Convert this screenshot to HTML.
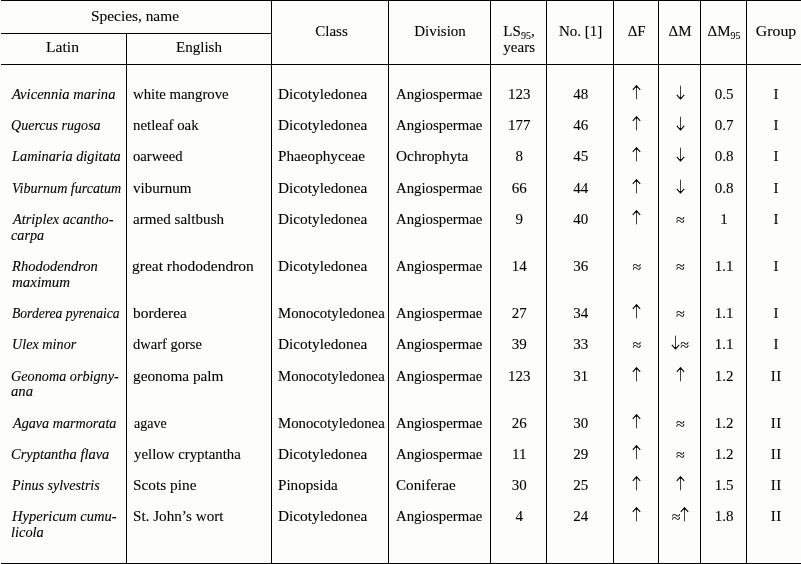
<!DOCTYPE html>
<html><head><meta charset="utf-8"><style>
html,body{margin:0;padding:0;}
body{width:801px;height:564px;background:#fdfdfb;position:relative;overflow:hidden;font-family:"Liberation Serif",serif;font-size:15px;color:#000;-webkit-text-stroke:0.1px #000;}
.w{position:absolute;left:0;top:0;width:801px;height:564px;will-change:transform;}
.h,.v{position:absolute;background:#000;}
.h{height:1px;}
.v{width:1px;}
.t,.c,.ap{position:absolute;line-height:16px;white-space:nowrap;}
.t{transform-origin:0 0;}
.c{text-align:center;}
.it{font-style:italic;}
.a{position:absolute;width:9px;height:15px;}
.a svg{display:block;}
.ap{width:40px;text-align:center;font-size:16px;}
sub{font-size:10px;vertical-align:baseline;position:relative;top:2.7px;line-height:0;}
</style></head><body><div class="w">
<div class="h" style="left:1px;top:0;width:800px"></div>
<div class="h" style="left:1px;top:33px;width:270px"></div>
<div class="h" style="left:1px;top:64px;width:800px"></div>
<div class="h" style="left:1px;top:563px;width:800px"></div>
<div class="v" style="left:126px;top:33px;height:531px"></div>
<div class="v" style="left:271px;top:0px;height:564px"></div>
<div class="v" style="left:388px;top:0px;height:564px"></div>
<div class="v" style="left:490px;top:0px;height:564px"></div>
<div class="v" style="left:546px;top:0px;height:564px"></div>
<div class="v" style="left:613px;top:0px;height:564px"></div>
<div class="v" style="left:658px;top:0px;height:564px"></div>
<div class="v" style="left:700px;top:0px;height:564px"></div>
<div class="v" style="left:746px;top:0px;height:564px"></div>
<div id="i1" class="c" style="left:0.00px;width:270px;top:8.00px;transform:scaleX(1.0250);">Species, name</div>
<div id="i2" class="c" style="left:0.00px;width:125px;top:39.00px;transform:scaleX(1.0400);">Latin</div>
<div id="i3" class="c" style="left:127.00px;width:144px;top:39.00px;">English</div>
<div id="i4" class="c" style="left:273.50px;width:116px;top:23.00px;">Class</div>
<div id="i5" class="c" style="left:389.50px;width:101px;top:23.00px;">Division</div>
<div id="i6" class="c" style="left:491.50px;width:55px;top:23.00px;">LS<sub>95</sub>,</div>
<div id="i7" class="c" style="left:491.70px;width:55px;top:39.00px;">years</div>
<div id="i8" class="c" style="left:547.60px;width:66px;top:23.00px;">No. [1]</div>
<div id="i9" class="c" style="left:614.70px;width:44px;top:23.00px;">ΔF</div>
<div id="i10" class="c" style="left:659.50px;width:41px;top:23.00px;">ΔM</div>
<div id="i11" class="c" style="left:701.60px;width:45px;top:23.00px;">ΔM<sub>95</sub></div>
<div id="i12" class="c" style="left:748.80px;width:54px;top:23.00px;transform:scaleX(1.0550);">Group</div>
<div id="i13" class="t it" style="left:11.99px;top:86.00px;transform:scaleX(0.9738);">Avicennia marina</div>
<div id="i14" class="t" style="left:133.33px;top:86.00px;transform:scaleX(0.9857);">white mangrove</div>
<div id="i15" class="t" style="left:277.88px;top:86.00px;transform:scaleX(1.0201);">Dicotyledonea</div>
<div id="i16" class="t" style="left:395.59px;top:86.00px;transform:scaleX(0.9873);">Angiospermae</div>
<div id="i17" class="c" style="left:491.70px;width:55.00000000000006px;top:86.00px;">123</div>
<div id="i18" class="c" style="left:547.70px;width:66.0px;top:86.00px;">48</div>
<div class="a" style="left:632.10px;top:84.50px"><svg width="9" height="15" viewBox="0 0 9 15"><path d="M4.5 1.5V14.3" stroke="#000" stroke-width="0.75" fill="none"/><path d="M0.8 4.9L4.5 0.7L8.2 4.9" stroke="#000" stroke-width="1.1" fill="none"/><path d="M4.5 0.4L3.1 2.8L5.9 2.8Z" fill="#000"/></svg></div>
<div class="a" style="left:675.60px;top:84.50px"><svg width="9" height="15" viewBox="0 0 9 15"><path d="M4.5 0.7V13.5" stroke="#000" stroke-width="0.75" fill="none"/><path d="M0.8 9.8L4.5 14.0L8.2 9.8" stroke="#000" stroke-width="1.1" fill="none"/><path d="M4.5 14.3L3.1 11.9L5.9 11.9Z" fill="#000"/></svg></div>
<div id="i19" class="c" style="left:701.50px;width:45.0px;top:86.00px;">0.5</div>
<div id="i20" class="c" style="left:749.00px;width:54.0px;top:86.00px;">I</div>
<div id="i21" class="t it" style="left:10.86px;top:117.00px;transform:scaleX(0.9368);">Quercus rugosa</div>
<div id="i22" class="t" style="left:133.28px;top:117.00px;transform:scaleX(0.9911);">netleaf oak</div>
<div id="i23" class="t" style="left:277.88px;top:117.00px;transform:scaleX(1.0201);">Dicotyledonea</div>
<div id="i24" class="t" style="left:395.59px;top:117.00px;transform:scaleX(0.9873);">Angiospermae</div>
<div id="i25" class="c" style="left:491.70px;width:55.00000000000006px;top:117.00px;">177</div>
<div id="i26" class="c" style="left:547.70px;width:66.0px;top:117.00px;">46</div>
<div class="a" style="left:632.10px;top:115.50px"><svg width="9" height="15" viewBox="0 0 9 15"><path d="M4.5 1.5V14.3" stroke="#000" stroke-width="0.75" fill="none"/><path d="M0.8 4.9L4.5 0.7L8.2 4.9" stroke="#000" stroke-width="1.1" fill="none"/><path d="M4.5 0.4L3.1 2.8L5.9 2.8Z" fill="#000"/></svg></div>
<div class="a" style="left:675.60px;top:115.50px"><svg width="9" height="15" viewBox="0 0 9 15"><path d="M4.5 0.7V13.5" stroke="#000" stroke-width="0.75" fill="none"/><path d="M0.8 9.8L4.5 14.0L8.2 9.8" stroke="#000" stroke-width="1.1" fill="none"/><path d="M4.5 14.3L3.1 11.9L5.9 11.9Z" fill="#000"/></svg></div>
<div id="i27" class="c" style="left:701.50px;width:45.0px;top:117.00px;">0.7</div>
<div id="i28" class="c" style="left:749.00px;width:54.0px;top:117.00px;">I</div>
<div id="i29" class="t it" style="left:12.26px;top:148.00px;transform:scaleX(0.9563);">Laminaria digitata</div>
<div id="i30" class="t" style="left:133.29px;top:148.00px;transform:scaleX(0.9771);">oarweed</div>
<div id="i31" class="t" style="left:278.02px;top:148.00px;transform:scaleX(1.0132);">Phaeophyceae</div>
<div id="i32" class="t" style="left:395.69px;top:148.00px;transform:scaleX(1.0227);">Ochrophyta</div>
<div id="i33" class="c" style="left:491.70px;width:55.00000000000006px;top:148.00px;">8</div>
<div id="i34" class="c" style="left:547.70px;width:66.0px;top:148.00px;">45</div>
<div class="a" style="left:632.10px;top:146.50px"><svg width="9" height="15" viewBox="0 0 9 15"><path d="M4.5 1.5V14.3" stroke="#000" stroke-width="0.75" fill="none"/><path d="M0.8 4.9L4.5 0.7L8.2 4.9" stroke="#000" stroke-width="1.1" fill="none"/><path d="M4.5 0.4L3.1 2.8L5.9 2.8Z" fill="#000"/></svg></div>
<div class="a" style="left:675.60px;top:146.50px"><svg width="9" height="15" viewBox="0 0 9 15"><path d="M4.5 0.7V13.5" stroke="#000" stroke-width="0.75" fill="none"/><path d="M0.8 9.8L4.5 14.0L8.2 9.8" stroke="#000" stroke-width="1.1" fill="none"/><path d="M4.5 14.3L3.1 11.9L5.9 11.9Z" fill="#000"/></svg></div>
<div id="i35" class="c" style="left:701.50px;width:45.0px;top:148.00px;">0.8</div>
<div id="i36" class="c" style="left:749.00px;width:54.0px;top:148.00px;">I</div>
<div id="i37" class="t it" style="left:11.83px;top:180.00px;transform:scaleX(0.9395);">Viburnum furcatum</div>
<div id="i38" class="t" style="left:133.35px;top:180.00px;transform:scaleX(1.0003);">viburnum</div>
<div id="i39" class="t" style="left:277.88px;top:180.00px;transform:scaleX(1.0201);">Dicotyledonea</div>
<div id="i40" class="t" style="left:395.59px;top:180.00px;transform:scaleX(0.9873);">Angiospermae</div>
<div id="i41" class="c" style="left:491.70px;width:55.00000000000006px;top:180.00px;">66</div>
<div id="i42" class="c" style="left:547.70px;width:66.0px;top:180.00px;">44</div>
<div class="a" style="left:632.10px;top:178.50px"><svg width="9" height="15" viewBox="0 0 9 15"><path d="M4.5 1.5V14.3" stroke="#000" stroke-width="0.75" fill="none"/><path d="M0.8 4.9L4.5 0.7L8.2 4.9" stroke="#000" stroke-width="1.1" fill="none"/><path d="M4.5 0.4L3.1 2.8L5.9 2.8Z" fill="#000"/></svg></div>
<div class="a" style="left:675.60px;top:178.50px"><svg width="9" height="15" viewBox="0 0 9 15"><path d="M4.5 0.7V13.5" stroke="#000" stroke-width="0.75" fill="none"/><path d="M0.8 9.8L4.5 14.0L8.2 9.8" stroke="#000" stroke-width="1.1" fill="none"/><path d="M4.5 14.3L3.1 11.9L5.9 11.9Z" fill="#000"/></svg></div>
<div id="i43" class="c" style="left:701.50px;width:45.0px;top:180.00px;">0.8</div>
<div id="i44" class="c" style="left:749.00px;width:54.0px;top:180.00px;">I</div>
<div id="i45" class="t it" style="left:12.73px;top:211.00px;transform:scaleX(0.9536);">Atriplex acantho-</div>
<div id="i46" class="t it" style="left:11.35px;top:227.00px;transform:scaleX(0.9450);">carpa</div>
<div id="i47" class="t" style="left:133.11px;top:211.00px;transform:scaleX(1.0074);">armed saltbush</div>
<div id="i48" class="t" style="left:277.88px;top:211.00px;transform:scaleX(1.0201);">Dicotyledonea</div>
<div id="i49" class="t" style="left:395.59px;top:211.00px;transform:scaleX(0.9873);">Angiospermae</div>
<div id="i50" class="c" style="left:491.70px;width:55.00000000000006px;top:211.00px;">9</div>
<div id="i51" class="c" style="left:547.70px;width:66.0px;top:211.00px;">40</div>
<div class="a" style="left:632.10px;top:209.50px"><svg width="9" height="15" viewBox="0 0 9 15"><path d="M4.5 1.5V14.3" stroke="#000" stroke-width="0.75" fill="none"/><path d="M0.8 4.9L4.5 0.7L8.2 4.9" stroke="#000" stroke-width="1.1" fill="none"/><path d="M4.5 0.4L3.1 2.8L5.9 2.8Z" fill="#000"/></svg></div>
<div class="ap" style="left:660.40px;top:212.00px">≈</div>
<div id="i52" class="c" style="left:701.50px;width:45.0px;top:211.00px;">1</div>
<div id="i53" class="c" style="left:749.00px;width:54.0px;top:211.00px;">I</div>
<div id="i54" class="t it" style="left:11.72px;top:258.00px;transform:scaleX(0.9690);">Rhododendron</div>
<div id="i55" class="t it" style="left:11.67px;top:274.00px;transform:scaleX(0.9960);">maximum</div>
<div id="i56" class="t" style="left:132.36px;top:258.00px;transform:scaleX(1.0334);">great rhododendron</div>
<div id="i57" class="t" style="left:277.88px;top:258.00px;transform:scaleX(1.0201);">Dicotyledonea</div>
<div id="i58" class="t" style="left:395.59px;top:258.00px;transform:scaleX(0.9873);">Angiospermae</div>
<div id="i59" class="c" style="left:491.70px;width:55.00000000000006px;top:258.00px;">14</div>
<div id="i60" class="c" style="left:547.70px;width:66.0px;top:258.00px;">36</div>
<div class="ap" style="left:616.90px;top:259.00px">≈</div>
<div class="ap" style="left:660.40px;top:259.00px">≈</div>
<div id="i61" class="c" style="left:701.50px;width:45.0px;top:258.00px;">1.1</div>
<div id="i62" class="c" style="left:749.00px;width:54.0px;top:258.00px;">I</div>
<div id="i63" class="t it" style="left:12.48px;top:305.00px;transform:scaleX(0.9070);">Borderea pyrenaica</div>
<div id="i64" class="t" style="left:132.58px;top:305.00px;transform:scaleX(1.0264);">borderea</div>
<div id="i65" class="t" style="left:278.29px;top:305.00px;transform:scaleX(0.9851);">Monocotyledonea</div>
<div id="i66" class="t" style="left:395.59px;top:305.00px;transform:scaleX(0.9873);">Angiospermae</div>
<div id="i67" class="c" style="left:491.70px;width:55.00000000000006px;top:305.00px;">27</div>
<div id="i68" class="c" style="left:547.70px;width:66.0px;top:305.00px;">34</div>
<div class="a" style="left:632.10px;top:303.50px"><svg width="9" height="15" viewBox="0 0 9 15"><path d="M4.5 1.5V14.3" stroke="#000" stroke-width="0.75" fill="none"/><path d="M0.8 4.9L4.5 0.7L8.2 4.9" stroke="#000" stroke-width="1.1" fill="none"/><path d="M4.5 0.4L3.1 2.8L5.9 2.8Z" fill="#000"/></svg></div>
<div class="ap" style="left:660.40px;top:306.00px">≈</div>
<div id="i69" class="c" style="left:701.50px;width:45.0px;top:305.00px;">1.1</div>
<div id="i70" class="c" style="left:749.00px;width:54.0px;top:305.00px;">I</div>
<div id="i71" class="t it" style="left:11.53px;top:336.00px;transform:scaleX(0.9463);">Ulex minor</div>
<div id="i72" class="t" style="left:133.38px;top:336.00px;transform:scaleX(0.9666);">dwarf gorse</div>
<div id="i73" class="t" style="left:277.88px;top:336.00px;transform:scaleX(1.0201);">Dicotyledonea</div>
<div id="i74" class="t" style="left:395.59px;top:336.00px;transform:scaleX(0.9873);">Angiospermae</div>
<div id="i75" class="c" style="left:491.70px;width:55.00000000000006px;top:336.00px;">39</div>
<div id="i76" class="c" style="left:547.70px;width:66.0px;top:336.00px;">33</div>
<div class="ap" style="left:616.90px;top:337.00px">≈</div>
<div class="a" style="left:671.30px;top:334.50px"><svg width="9" height="15" viewBox="0 0 9 15"><path d="M4.5 0.7V13.5" stroke="#000" stroke-width="0.75" fill="none"/><path d="M0.8 9.8L4.5 14.0L8.2 9.8" stroke="#000" stroke-width="1.1" fill="none"/><path d="M4.5 14.3L3.1 11.9L5.9 11.9Z" fill="#000"/></svg></div>
<div class="ap" style="left:664.70px;top:337.00px">≈</div>
<div id="i77" class="c" style="left:701.50px;width:45.0px;top:336.00px;">1.1</div>
<div id="i78" class="c" style="left:749.00px;width:54.0px;top:336.00px;">I</div>
<div id="i79" class="t it" style="left:11.22px;top:368.00px;transform:scaleX(0.9473);">Geonoma orbigny-</div>
<div id="i80" class="t it" style="left:11.45px;top:383.00px;transform:scaleX(0.9826);">ana</div>
<div id="i81" class="t" style="left:132.75px;top:368.00px;transform:scaleX(1.0196);">geonoma palm</div>
<div id="i82" class="t" style="left:278.29px;top:368.00px;transform:scaleX(0.9851);">Monocotyledonea</div>
<div id="i83" class="t" style="left:395.59px;top:368.00px;transform:scaleX(0.9873);">Angiospermae</div>
<div id="i84" class="c" style="left:491.70px;width:55.00000000000006px;top:368.00px;">123</div>
<div id="i85" class="c" style="left:547.70px;width:66.0px;top:368.00px;">31</div>
<div class="a" style="left:632.10px;top:366.50px"><svg width="9" height="15" viewBox="0 0 9 15"><path d="M4.5 1.5V14.3" stroke="#000" stroke-width="0.75" fill="none"/><path d="M0.8 4.9L4.5 0.7L8.2 4.9" stroke="#000" stroke-width="1.1" fill="none"/><path d="M4.5 0.4L3.1 2.8L5.9 2.8Z" fill="#000"/></svg></div>
<div class="a" style="left:675.60px;top:366.50px"><svg width="9" height="15" viewBox="0 0 9 15"><path d="M4.5 1.5V14.3" stroke="#000" stroke-width="0.75" fill="none"/><path d="M0.8 4.9L4.5 0.7L8.2 4.9" stroke="#000" stroke-width="1.1" fill="none"/><path d="M4.5 0.4L3.1 2.8L5.9 2.8Z" fill="#000"/></svg></div>
<div id="i86" class="c" style="left:701.50px;width:45.0px;top:368.00px;">1.2</div>
<div id="i87" class="c" style="left:749.00px;width:54.0px;top:368.00px;"><span style="letter-spacing:0.7px;margin-right:-0.7px">II</span></div>
<div id="i88" class="t it" style="left:12.89px;top:415.00px;transform:scaleX(0.9435);">Agava marmorata</div>
<div id="i89" class="t" style="left:133.55px;top:415.00px;transform:scaleX(0.9325);">agave</div>
<div id="i90" class="t" style="left:278.29px;top:415.00px;transform:scaleX(0.9851);">Monocotyledonea</div>
<div id="i91" class="t" style="left:395.59px;top:415.00px;transform:scaleX(0.9873);">Angiospermae</div>
<div id="i92" class="c" style="left:491.70px;width:55.00000000000006px;top:415.00px;">26</div>
<div id="i93" class="c" style="left:547.70px;width:66.0px;top:415.00px;">30</div>
<div class="a" style="left:632.10px;top:413.50px"><svg width="9" height="15" viewBox="0 0 9 15"><path d="M4.5 1.5V14.3" stroke="#000" stroke-width="0.75" fill="none"/><path d="M0.8 4.9L4.5 0.7L8.2 4.9" stroke="#000" stroke-width="1.1" fill="none"/><path d="M4.5 0.4L3.1 2.8L5.9 2.8Z" fill="#000"/></svg></div>
<div class="ap" style="left:660.40px;top:416.00px">≈</div>
<div id="i94" class="c" style="left:701.50px;width:45.0px;top:415.00px;">1.2</div>
<div id="i95" class="c" style="left:749.00px;width:54.0px;top:415.00px;"><span style="letter-spacing:0.7px;margin-right:-0.7px">II</span></div>
<div id="i96" class="t it" style="left:11.08px;top:446.00px;transform:scaleX(0.9628);">Cryptantha flava</div>
<div id="i97" class="t" style="left:133.54px;top:446.00px;transform:scaleX(0.9901);">yellow cryptantha</div>
<div id="i98" class="t" style="left:277.88px;top:446.00px;transform:scaleX(1.0201);">Dicotyledonea</div>
<div id="i99" class="t" style="left:395.59px;top:446.00px;transform:scaleX(0.9873);">Angiospermae</div>
<div id="i100" class="c" style="left:491.70px;width:55.00000000000006px;top:446.00px;">11</div>
<div id="i101" class="c" style="left:547.70px;width:66.0px;top:446.00px;">29</div>
<div class="a" style="left:632.10px;top:444.50px"><svg width="9" height="15" viewBox="0 0 9 15"><path d="M4.5 1.5V14.3" stroke="#000" stroke-width="0.75" fill="none"/><path d="M0.8 4.9L4.5 0.7L8.2 4.9" stroke="#000" stroke-width="1.1" fill="none"/><path d="M4.5 0.4L3.1 2.8L5.9 2.8Z" fill="#000"/></svg></div>
<div class="ap" style="left:660.40px;top:447.00px">≈</div>
<div id="i102" class="c" style="left:701.50px;width:45.0px;top:446.00px;">1.2</div>
<div id="i103" class="c" style="left:749.00px;width:54.0px;top:446.00px;"><span style="letter-spacing:0.7px;margin-right:-0.7px">II</span></div>
<div id="i104" class="t it" style="left:11.71px;top:477.00px;transform:scaleX(0.9357);">Pinus sylvestris</div>
<div id="i105" class="t" style="left:132.54px;top:477.00px;transform:scaleX(1.0222);">Scots pine</div>
<div id="i106" class="t" style="left:278.18px;top:477.00px;transform:scaleX(1.0091);">Pinopsida</div>
<div id="i107" class="t" style="left:395.53px;top:477.00px;transform:scaleX(1.0092);">Coniferae</div>
<div id="i108" class="c" style="left:491.70px;width:55.00000000000006px;top:477.00px;">30</div>
<div id="i109" class="c" style="left:547.70px;width:66.0px;top:477.00px;">25</div>
<div class="a" style="left:632.10px;top:475.50px"><svg width="9" height="15" viewBox="0 0 9 15"><path d="M4.5 1.5V14.3" stroke="#000" stroke-width="0.75" fill="none"/><path d="M0.8 4.9L4.5 0.7L8.2 4.9" stroke="#000" stroke-width="1.1" fill="none"/><path d="M4.5 0.4L3.1 2.8L5.9 2.8Z" fill="#000"/></svg></div>
<div class="a" style="left:675.60px;top:475.50px"><svg width="9" height="15" viewBox="0 0 9 15"><path d="M4.5 1.5V14.3" stroke="#000" stroke-width="0.75" fill="none"/><path d="M0.8 4.9L4.5 0.7L8.2 4.9" stroke="#000" stroke-width="1.1" fill="none"/><path d="M4.5 0.4L3.1 2.8L5.9 2.8Z" fill="#000"/></svg></div>
<div id="i110" class="c" style="left:701.50px;width:45.0px;top:477.00px;">1.5</div>
<div id="i111" class="c" style="left:749.00px;width:54.0px;top:477.00px;"><span style="letter-spacing:0.7px;margin-right:-0.7px">II</span></div>
<div id="i112" class="t it" style="left:12.22px;top:508.00px;transform:scaleX(0.9699);">Hypericum cumu-</div>
<div id="i113" class="t it" style="left:10.60px;top:524.00px;transform:scaleX(0.9608);">licola</div>
<div id="i114" class="t" style="left:132.55px;top:508.00px;transform:scaleX(1.0102);">St. John’s wort</div>
<div id="i115" class="t" style="left:277.88px;top:508.00px;transform:scaleX(1.0201);">Dicotyledonea</div>
<div id="i116" class="t" style="left:395.59px;top:508.00px;transform:scaleX(0.9873);">Angiospermae</div>
<div id="i117" class="c" style="left:491.70px;width:55.00000000000006px;top:508.00px;">4</div>
<div id="i118" class="c" style="left:547.70px;width:66.0px;top:508.00px;">24</div>
<div class="a" style="left:632.10px;top:506.50px"><svg width="9" height="15" viewBox="0 0 9 15"><path d="M4.5 1.5V14.3" stroke="#000" stroke-width="0.75" fill="none"/><path d="M0.8 4.9L4.5 0.7L8.2 4.9" stroke="#000" stroke-width="1.1" fill="none"/><path d="M4.5 0.4L3.1 2.8L5.9 2.8Z" fill="#000"/></svg></div>
<div class="ap" style="left:656.10px;top:509.00px">≈</div>
<div class="a" style="left:679.90px;top:506.50px"><svg width="9" height="15" viewBox="0 0 9 15"><path d="M4.5 1.5V14.3" stroke="#000" stroke-width="0.75" fill="none"/><path d="M0.8 4.9L4.5 0.7L8.2 4.9" stroke="#000" stroke-width="1.1" fill="none"/><path d="M4.5 0.4L3.1 2.8L5.9 2.8Z" fill="#000"/></svg></div>
<div id="i119" class="c" style="left:701.50px;width:45.0px;top:508.00px;">1.8</div>
<div id="i120" class="c" style="left:749.00px;width:54.0px;top:508.00px;"><span style="letter-spacing:0.7px;margin-right:-0.7px">II</span></div>
</div></body></html>
